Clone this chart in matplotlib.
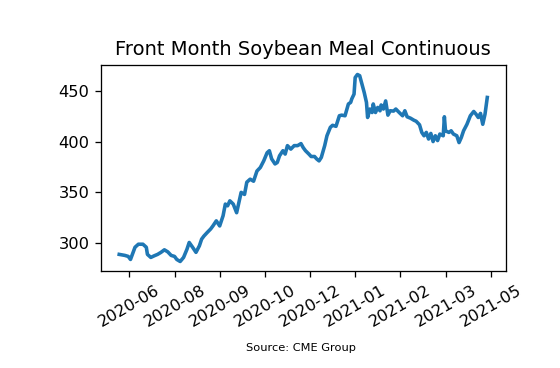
import pandas as pd
import matplotlib
matplotlib.use('Agg')
import matplotlib.pyplot as plt
import matplotlib.dates as mdates

# front month soybean meal settle
dates = [
    '2020-06-15', '2020-06-20', '2020-06-23', '2020-06-25', '2020-06-29', '2020-07-02',
    '2020-07-06', '2020-07-09', '2020-07-10', '2020-07-13', '2020-07-16', '2020-07-19',
    '2020-07-22', '2020-07-25', '2020-07-28', '2020-07-31', '2020-08-03', '2020-08-05',
    '2020-08-08', '2020-08-11', '2020-08-14', '2020-08-16', '2020-08-19', '2020-08-22',
    '2020-08-25', '2020-08-27', '2020-08-29', '2020-09-01', '2020-09-04', '2020-09-06',
    '2020-09-09', '2020-09-12', '2020-09-15', '2020-09-17', '2020-09-19', '2020-09-21',
    '2020-09-24', '2020-09-27', '2020-09-29', '2020-10-01', '2020-10-04', '2020-10-06',
    '2020-10-09', '2020-10-12', '2020-10-15', '2020-10-18', '2020-10-21', '2020-10-24',
    '2020-10-26', '2020-10-28', '2020-10-31', '2020-11-02', '2020-11-04', '2020-11-07',
    '2020-11-09', '2020-11-11', '2020-11-14', '2020-11-17', '2020-11-20', '2020-11-23',
    '2020-11-25', '2020-11-27', '2020-11-30', '2020-12-02', '2020-12-05', '2020-12-07',
    '2020-12-09', '2020-12-11', '2020-12-14', '2020-12-16', '2020-12-19', '2020-12-21',
    '2020-12-24', '2020-12-27', '2020-12-29', '2021-01-01', '2021-01-04', '2021-01-06',
    '2021-01-07', '2021-01-09', '2021-01-10', '2021-01-12', '2021-01-14', '2021-01-16',
    '2021-01-18', '2021-01-20', '2021-01-21', '2021-01-23', '2021-01-25', '2021-01-26',
    '2021-01-28', '2021-01-30', '2021-02-01', '2021-02-02', '2021-02-04', '2021-02-06',
    '2021-02-08', '2021-02-10', '2021-02-13', '2021-02-15', '2021-02-18', '2021-02-21',
    '2021-02-23', '2021-02-25', '2021-02-28', '2021-03-03', '2021-03-05', '2021-03-08',
    '2021-03-10', '2021-03-12', '2021-03-14', '2021-03-16', '2021-03-18', '2021-03-20',
    '2021-03-22', '2021-03-24', '2021-03-26', '2021-03-29', '2021-03-30', '2021-03-31',
    '2021-04-03', '2021-04-05', '2021-04-07', '2021-04-10', '2021-04-12', '2021-04-14',
    '2021-04-16', '2021-04-19', '2021-04-22', '2021-04-25', '2021-04-27', '2021-04-29',
    '2021-05-01', '2021-05-03', '2021-05-05', '2021-05-07',
]
prices = [
    289, 288, 287, 284, 296, 299,
    299, 296, 289, 286, 287.6, 289,
    291, 293.5, 291.5, 288, 287, 284,
    282, 286, 294, 300.7, 296, 291,
    297.4, 304, 307, 310.6, 314, 317,
    322, 317, 327, 338.5, 336.8, 341.7,
    338.5, 330, 340, 350, 348, 360,
    363, 361, 371, 374.5, 381, 389,
    391, 383, 378, 379.4, 386, 391,
    387.7, 396, 392.6, 396, 396, 398,
    394, 391, 387.7, 385.3, 385.3, 382.8,
    381, 384.4, 396, 405.7, 414, 416,
    415, 425.4, 426, 425.4, 437, 438.5,
    442, 446.7, 463, 466, 464.8, 456.6,
    448.3, 438.5, 423.7, 432, 428.6, 437,
    428.6, 433.6, 430.3, 436, 432, 440,
    426, 430.3, 430, 432, 428.6, 425.4,
    430.3, 424.4, 423, 421, 420, 416.5,
    409, 405.7, 409, 402.5, 408, 400,
    405.7, 401, 407.4, 405.7, 424.4, 410.6,
    409, 410.6, 407.4, 405.7, 399, 404,
    410.6, 417, 425.4, 429.6, 427, 423.7,
    427.7, 417, 427, 443.4,
]

df = pd.DataFrame({'date': pd.to_datetime(dates), 'price': prices})

dpi = 117
fig = plt.figure(figsize=(560 / dpi, 368 / dpi), dpi=dpi)
ax = fig.add_axes([0.180, 0.264, 0.723, 0.559])
ax.plot(df['date'], df['price'], color='#1f77b4', linewidth=2.2)

# ticks every 40 days, like the original plot
ticks = pd.date_range('2020-06-24', periods=9, freq='40D')
ax.set_xticks(ticks)
ax.xaxis.set_major_formatter(mdates.DateFormatter('%Y-%m'))
plt.setp(ax.get_xticklabels(), rotation=30)
ax.set_yticks([300, 350, 400, 450])

ax.set_title('Front Month Soybean Meal Continuous')
fig.text(0.538, 0.046, 'Source: CME Group', ha='center', fontsize=7)

fig.savefig('out.png', dpi=dpi)
